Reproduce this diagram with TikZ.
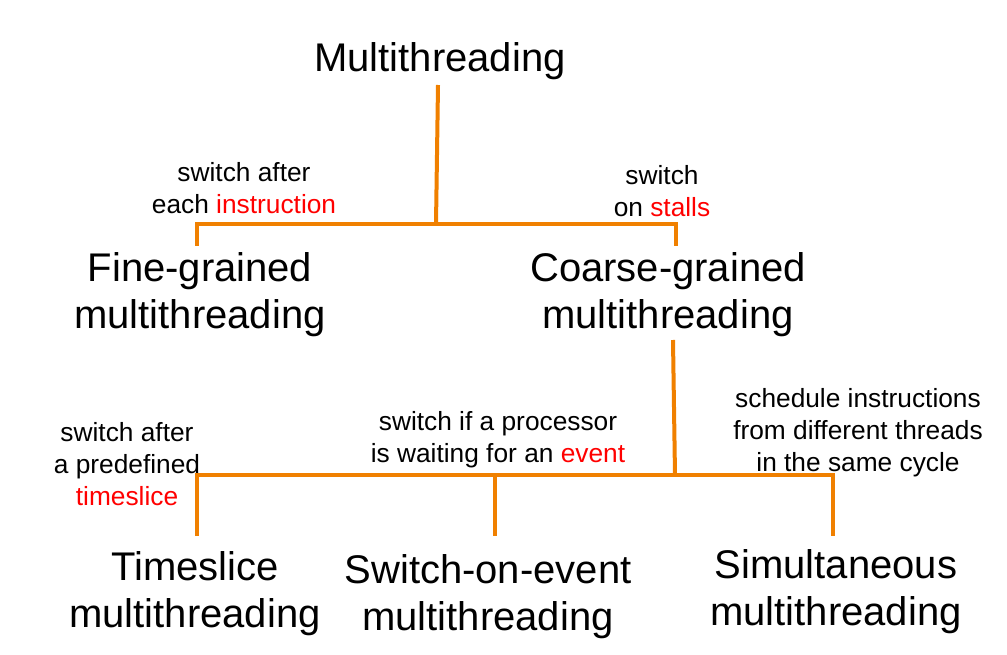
\documentclass[tikz,border=0pt]{standalone}
\usepackage{fontspec}
\setmainfont{Liberation Sans}
\definecolor{tor}{RGB}{240,128,0}
\definecolor{tred}{RGB}{255,0,0}
\begin{document}
\begin{tikzpicture}[x=1pt,y=-1pt,
  big/.style={align=center,inner sep=0pt,font=\fontsize{40}{47}\selectfont},
  small/.style={align=center,inner sep=0pt,font=\fontsize{26.3}{32}\selectfont},
  conn/.style={draw=tor,line width=4pt,line join=miter}]
\useasboundingbox (0,0) rectangle (1007,655);
% main nodes
\node[big] (mt) at (440,61) {Multithreading};
\node[big] (fine) at (200,295) {Fine-grained\\multithreading};
\node[big] (coarse) at (668,295) {Coarse-grained\\multithreading};
\node[big] (ts) at (195,594) {Timeslice\\multithreading};
\node[big] (soe) at (488,597) {Switch-on-event\\multithreading};
\node[big] (sim) at (836,592) {Simultaneous\\multithreading};
% labels
\node[small] (l1) at (244,188) {switch after\\each \textcolor{tred}{instruction}};
\node[small] (l2) at (662,191) {switch\\on \textcolor{tred}{stalls}};
\node[small] (l3) at (127,464) {switch after\\a predefined\\\textcolor{tred}{timeslice}};
\node[small] (l4) at (498,440) {switch if a processor\\is waiting for an \textcolor{tred}{event}};
\node[small] (l5) at (858,433) {schedule instructions\\from different threads\\in the same cycle};
% junctions
\coordinate (t1) at (438,85);
\coordinate (b1M) at (436,224);
\coordinate (b1L) at (197,224);
\coordinate (b1R) at (676,224);
\coordinate (e1L) at (197,246);
\coordinate (e1R) at (676,246);
\coordinate (t2) at (673,340);
\coordinate (b2M) at (675,475);
\coordinate (b2L) at (197,475);
\coordinate (b2C) at (495,475);
\coordinate (b2R) at (833,475);
\coordinate (e2L) at (197,536);
\coordinate (e2C) at (495,536);
\coordinate (e2R) at (833,536);
% connectors
\draw[conn] (t1) -- (b1M);
\draw[conn] (e1L) -- (b1L) -- (b1R) -- (e1R);
\draw[conn] (t2) -- (b2M);
\draw[conn] (e2L) -- (b2L) -- (b2R) -- (e2R);
\draw[conn] (b2C) -- (e2C);
\end{tikzpicture}
\end{document}
